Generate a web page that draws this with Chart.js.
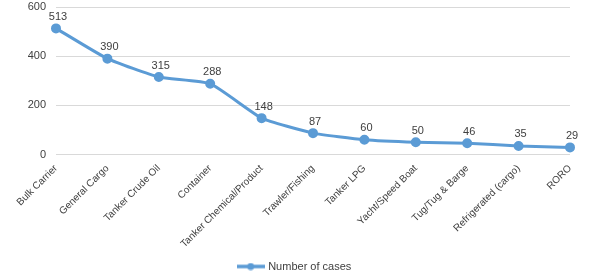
<!DOCTYPE html>
<html>
<head>
<meta charset="utf-8">
<script src="https://cdn.jsdelivr.net/npm/chart.js@4/dist/chart.umd.min.js"></script>
<style>
  html, body { margin: 0; padding: 0; background: #fff; }
  #wrap { width: 590px; height: 278px; }
</style>
</head>
<body>
<div id="wrap"><canvas id="chart"></canvas></div>
<script>
const vesselTypes = ['Bulk Carrier', 'General Cargo', 'Tanker Crude Oil', 'Container', 'Tanker Chemical/Product',
  'Trawler/Fishing', 'Tanker LPG', 'Yacht/Speed Boat', 'Tug/Tug & Barge', 'Refrigerated (cargo)', 'RORO'];
const caseCounts = [513, 390, 315, 288, 148, 87, 60, 50, 46, 35, 29];
const yTicks = [0, 200, 400, 600];

const blue = '#5b9bd5';
const font = '"Liberation Sans", Arial, sans-serif';

// legend marker: short line with a dot in the middle
const marker = document.createElement('canvas');
marker.width = 28;
marker.height = 8;
const mctx = marker.getContext('2d');
mctx.strokeStyle = blue;
mctx.lineWidth = 3.5;
mctx.beginPath();
mctx.moveTo(0, 4);
mctx.lineTo(28, 4);
mctx.stroke();
mctx.fillStyle = blue;
mctx.beginPath();
mctx.arc(14, 4, 3.5, 0, Math.PI * 2);
mctx.fill();

const valueLabels = {
  id: 'valueLabels',
  afterDatasetsDraw(chart) {
    const ctx = chart.ctx;
    const meta = chart.getDatasetMeta(0);
    ctx.save();
    ctx.font = '11px ' + font;
    ctx.fillStyle = '#404040';
    ctx.textAlign = 'center';
    ctx.textBaseline = 'bottom';
    meta.data.forEach((pt, i) => {
      ctx.fillText(chart.data.datasets[0].data[i], pt.x + 2, pt.y - 6);
    });
    ctx.restore();
  }
};

new Chart(document.getElementById('chart'), {
  type: 'line',
  data: {
    labels: vesselTypes,
    datasets: [{
      label: 'Number of cases',
      data: caseCounts,
      borderColor: blue,
      backgroundColor: blue,
      borderWidth: 3,
      pointRadius: 3.5,
      pointHoverRadius: 3.5,
      tension: 0.15,
      fill: false
    }]
  },
  options: {
    responsive: true,
    maintainAspectRatio: false,
    animation: false,
    layout: { padding: { top: 7, right: 0, left: 0, bottom: -4 } },
    plugins: {
      legend: {
        position: 'bottom',
        labels: {
          usePointStyle: true,
          pointStyle: marker,
          pointStyleWidth: 24,
          boxHeight: 8,
          padding: 4,
          color: '#404040',
          font: { family: font, size: 11 }
        }
      },
      tooltip: { enabled: false }
    },
    scales: {
      x: {
        offset: false,
        grid: { display: false },
        border: { display: false },
        afterFit(scale) { scale.height += 7; scale.paddingRight = 20; },
        ticks: {
          autoSkip: false,
          minRotation: 45,
          maxRotation: 45,
          padding: 0,
          color: '#404040',
          font: { family: font, size: 10 }
        }
      },
      y: {
        min: 0,
        max: 600,
        afterBuildTicks(scale) { scale.ticks = yTicks.map(v => ({ value: v })); },
        afterFit(scale) { scale.width = 56; scale.paddingTop = 0; },
        grid: { color: '#d9d9d9', drawTicks: false },
        border: { display: false },
        ticks: {
          padding: 10,
          color: '#404040',
          font: { family: font, size: 11 }
        }
      }
    }
  },
  plugins: [valueLabels]
});
</script>
</body>
</html>
